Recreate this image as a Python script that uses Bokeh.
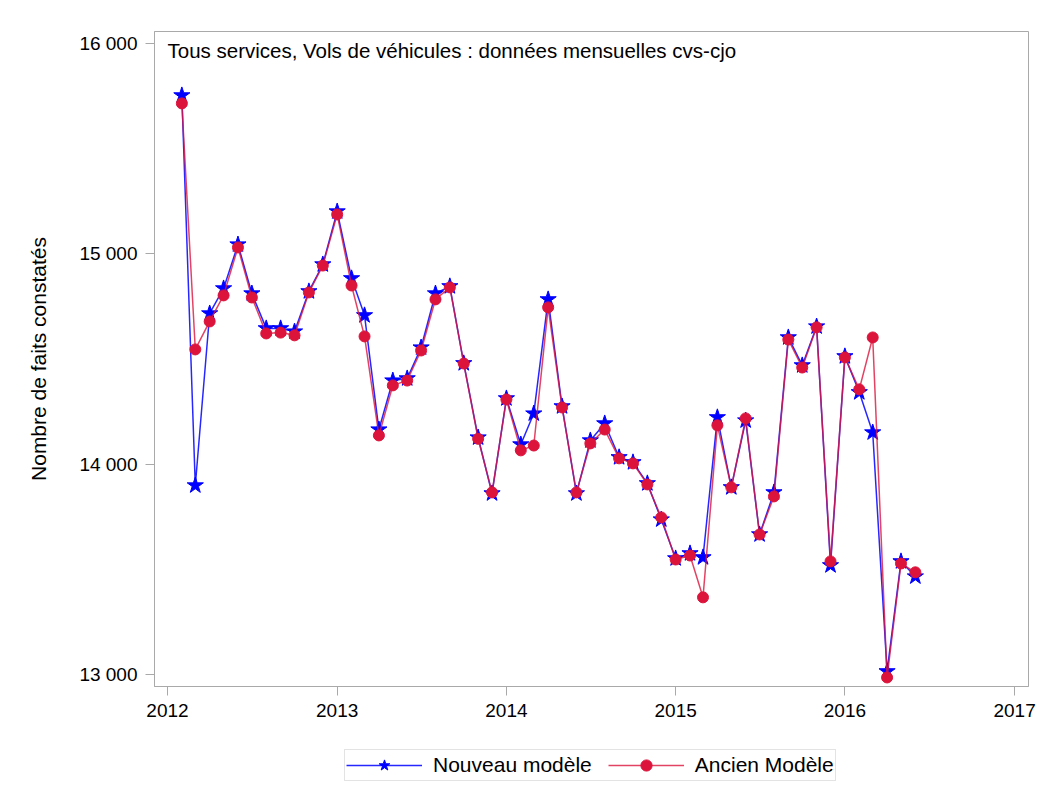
from bokeh.plotting import figure
from bokeh.layouts import column
from bokeh.models import (Legend, LegendItem, Label, FixedTicker, Range1d,
                          DatetimeTickFormatter)
from bokeh.embed import file_html
from bokeh.resources import INLINE
import pandas as pd

months = [
    "2012-02", "2012-03", "2012-04", "2012-05", "2012-06", "2012-07", "2012-08",
    "2012-09", "2012-10", "2012-11", "2012-12",
    "2013-01", "2013-02", "2013-03", "2013-04", "2013-05", "2013-06", "2013-07",
    "2013-08", "2013-09", "2013-10", "2013-11", "2013-12",
    "2014-01", "2014-02", "2014-03", "2014-04", "2014-05", "2014-06", "2014-07",
    "2014-08", "2014-09", "2014-10", "2014-11", "2014-12",
    "2015-01", "2015-02", "2015-03", "2015-04", "2015-05", "2015-06", "2015-07",
    "2015-08", "2015-09", "2015-10", "2015-11", "2015-12",
    "2016-01", "2016-02", "2016-03", "2016-04", "2016-05", "2016-06",
]

nouveau = [
    15753, 13898, 14716, 14835, 15044, 14811, 14645, 14645, 14630, 14821, 14949,
    15201, 14883, 14707, 14164, 14397, 14407, 14554, 14811, 14845, 14479, 14126, 13860,
    14312, 14093, 14240, 14783, 14274, 13860, 14112, 14193, 14032, 14008, 13908, 13736,
    13551, 13575, 13556, 14222, 13889, 14207, 13665, 13865, 14602, 14469, 14654, 13518,
    14512, 14341, 14150, 13014, 13537, 13465,
]

ancien = [
    15715, 14545, 14678, 14802, 15030, 14792, 14621, 14625, 14612, 14816, 14944,
    15187, 14849, 14607, 14136, 14374, 14397, 14540, 14783, 14840, 14478, 14120, 13865,
    14307, 14065, 14088, 14745, 14269, 13865, 14098, 14164, 14027, 14003, 13903, 13746,
    13546, 13565, 13366, 14184, 13889, 14217, 13665, 13846, 14592, 14459, 14650, 13537,
    14507, 14355, 14602, 12985, 13527, 13485,
]

year_ticks = ["2012-01-01", "2013-01-01", "2014-01-01", "2015-01-01",
              "2016-01-01", "2017-01-01"]
y_ticks = [13000, 14000, 15000, 16000]
y_tick_labels = ["13 000", "14 000", "15 000", "16 000"]

title_text = "Tous services, Vols de véhicules : données mensuelles cvs-cjo"
y_label = "Nombre de faits constatés"
legend_labels = ["Nouveau modèle", "Ancien Modèle"]

FONT = "Liberation Sans"
GREY = "#a9a9a9"
BLUE = "#0000ff"
RED = "#dc143c"

x = pd.to_datetime(months)
x_rng = (pd.Timestamp("2011-12-04"), pd.Timestamp("2017-01-31"))
y_rng = (12942, 16057)


def add_series(fig, visible=True):
    bl = fig.line(x, nouveau, line_color=BLUE, line_width=1.5, line_alpha=0.85,
                  visible=visible)
    bs = fig.scatter(x, nouveau, marker="star", size=17, fill_color=BLUE,
                     line_color=BLUE, line_width=1, visible=visible)
    rl = fig.line(x, ancien, line_color=RED, line_width=1.5, line_alpha=0.8,
                  visible=visible)
    rc = fig.scatter(x, ancien, marker="circle", size=11, fill_color=RED,
                     line_color=RED, line_width=1, visible=visible)
    return bl, bs, rl, rc


# ---------------- main chart ----------------
p = figure(width=1036, height=735, x_axis_type="datetime",
           output_backend="svg", toolbar_location=None,
           x_range=Range1d(*x_rng), y_range=Range1d(*y_rng),
           min_border_left=154, min_border_right=8, min_border_top=31,
           min_border_bottom=49)

p.grid.visible = False
p.outline_line_color = GREY
p.outline_line_width = 1

tick_ms = [pd.Timestamp(t).value // 10**6 for t in year_ticks]
p.xaxis.ticker = FixedTicker(ticks=tick_ms)
p.xaxis.formatter = DatetimeTickFormatter(years="%Y", months="%Y", days="%Y",
                                          hours="%Y", minutes="%Y")
p.yaxis.ticker = FixedTicker(ticks=y_ticks)
p.yaxis.major_label_overrides = {t: l for t, l in zip(y_ticks, y_tick_labels)}

for ax in (p.xaxis[0], p.yaxis[0]):
    ax.axis_line_color = GREY
    ax.major_tick_line_color = GREY
    ax.minor_tick_line_color = None
    ax.major_tick_in = 0
    ax.major_tick_out = 9
    ax.major_label_text_font = FONT
    ax.major_label_text_font_size = "19px"
    ax.major_label_text_color = "#000000"
    ax.major_label_standoff = 8

p.yaxis.axis_label = y_label
p.yaxis.axis_label_text_font = FONT
p.yaxis.axis_label_text_font_size = "21px"
p.yaxis.axis_label_text_font_style = "normal"
p.yaxis.axis_label_text_color = "#000000"
p.yaxis.axis_label_standoff = 26

add_series(p)

p.add_layout(Label(x=13, y=636, x_units="screen", y_units="screen",
                   text=title_text, text_font=FONT, text_font_size="20.5px",
                   text_color="#000000", text_baseline="middle"))

# ---------------- legend strip ----------------
lg = figure(width=1036, height=54, output_backend="svg", toolbar_location=None,
            x_axis_type="datetime", x_range=Range1d(*x_rng),
            y_range=Range1d(*y_rng), x_axis_location=None, y_axis_location=None,
            min_border_left=0, min_border_right=0, min_border_top=0,
            min_border_bottom=0)
lg.grid.visible = False
lg.outline_line_color = None
lbl, lbs, lrl, lrc = add_series(lg, visible=False)

legend = Legend(items=[LegendItem(label=legend_labels[0], renderers=[lbl, lbs]),
                       LegendItem(label=legend_labels[1], renderers=[lrl, lrc])],
                orientation="horizontal", location=(190, 8),
                label_text_font=FONT, label_text_font_size="21px",
                label_text_color="#000000",
                glyph_width=76, glyph_height=28, label_standoff=11,
                spacing=16, padding=1, margin=0,
                border_line_color="#c8c8c8", border_line_width=1,
                background_fill_alpha=1.0, inactive_fill_alpha=0.0,
                click_policy="none")
lg.add_layout(legend, "center")

layout = column(p, lg, spacing=0)
open("out.html", "w").write(file_html(layout, INLINE))
